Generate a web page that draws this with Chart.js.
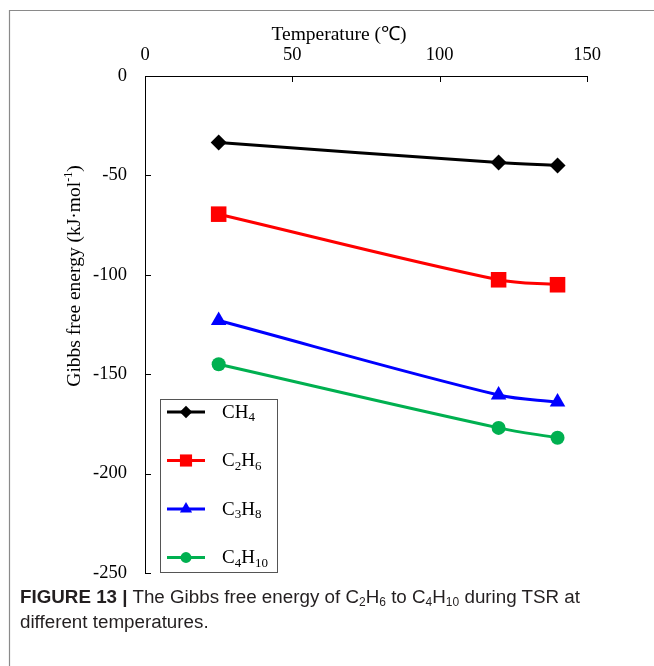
<!DOCTYPE html>
<html>
<head>
<meta charset="utf-8">
<script src="https://cdn.jsdelivr.net/npm/chart.js@4/dist/chart.umd.min.js"></script>
<style>
  html, body { margin: 0; padding: 0; background: #fff; }
  #wrap { position: relative; width: 654px; height: 666px; overflow: hidden; }
  #c { position: absolute; left: 0; top: 0; }
  #caption {
    position: absolute; left: 20px; top: 584px; width: 590px;
    font-family: "Liberation Sans", Arial, sans-serif; font-size: 18.8px;
    line-height: 25px; color: #231f20;
  }
  #caption b { font-weight: bold; }
  #caption sub { font-size: 12px; vertical-align: -3px; line-height: 0; }
</style>
</head>
<body>
<div id="wrap">
  <canvas id="c" width="654" height="666"></canvas>
  <div id="caption"><b>FIGURE 13 |</b> The Gibbs free energy of C<sub>2</sub>H<sub>6</sub> to C<sub>4</sub>H<sub>10</sub> during TSR at different temperatures.</div>
</div>
<script>
// Reaction temperatures (℃)
const temperatures = [25, 120, 140];
// Gibbs free energy (kJ·mol-1) per hydrocarbon
const ch4 = [-33.5, -43.5, -45];
const c2h6 = [-69.5, -102.5, -105];
const c3h8 = [-123, -160.5, -164];
const c4h10 = [-145, -177, -182];
// Legend names: base text and subscript pieces
const seriesNames = [
  [['CH', false], ['4', true]],
  [['C', false], ['2', true], ['H', false], ['6', true]],
  [['C', false], ['3', true], ['H', false], ['8', true]],
  [['C', false], ['4', true], ['H', false], ['10', true]]
];
const xTicks = [0, 50, 100, 150];
const yTicks = [0, -50, -100, -150, -200, -250];

const SERIF = '"Liberation Serif", "Times New Roman", serif';

function pts(vals) { return temperatures.map((t, i) => ({ x: t, y: vals[i] })); }

function series(label, vals, color, style, radius) {
  return {
    label, data: pts(vals),
    borderColor: color, backgroundColor: color,
    borderWidth: 3, tension: 0.35,
    pointStyle: style, pointRadius: radius, pointHoverRadius: radius,
    pointBorderWidth: 0, pointBackgroundColor: color
  };
}

// Outer frame and white background
const framePlugin = {
  id: 'frame',
  beforeDraw(chart) {
    const ctx = chart.ctx;
    ctx.save();
    ctx.fillStyle = '#fff';
    ctx.fillRect(0, 0, chart.width, chart.height);
    ctx.strokeStyle = '#8a8a8a';
    ctx.lineWidth = 1.2;
    ctx.beginPath();
    ctx.moveTo(9.5, chart.height);
    ctx.lineTo(9.5, 10.5);
    ctx.lineTo(chart.width, 10.5);
    ctx.stroke();
    ctx.restore();
  }
};

// Inward tick marks and axis titles
const axisExtras = {
  id: 'axisExtras',
  afterDraw(chart) {
    const ctx = chart.ctx;
    const xs = chart.scales.x, ys = chart.scales.y;
    const area = chart.chartArea;
    ctx.save();
    ctx.strokeStyle = '#000';
    ctx.lineWidth = 1;
    ctx.beginPath();
    xTicks.forEach(v => {
      const px = Math.round(xs.getPixelForValue(v)) + 0.5;
      ctx.moveTo(px, area.top);
      ctx.lineTo(px, area.top + 6);
    });
    yTicks.forEach(v => {
      const py = Math.round(ys.getPixelForValue(v)) + 0.5;
      ctx.moveTo(area.left, py);
      ctx.lineTo(area.left + 6, py);
    });
    ctx.stroke();

    // x title
    ctx.fillStyle = '#000';
    ctx.font = '19.5px ' + SERIF;
    ctx.textAlign = 'center';
    ctx.textBaseline = 'middle';
    ctx.fillText('Temperature (\u2103)', 339, 35);

    // y title with superscript
    ctx.translate(75, 276);
    ctx.rotate(-Math.PI / 2);
    const main = 'Gibbs free energy (kJ\u00b7mol';
    const sup = '-1';
    const tail = ')';
    ctx.font = '19.5px ' + SERIF;
    const w1 = ctx.measureText(main).width;
    const w3 = ctx.measureText(tail).width;
    ctx.font = '12px ' + SERIF;
    const w2 = ctx.measureText(sup).width;
    const total = w1 + w2 + w3;
    let x0 = -total / 2;
    ctx.textAlign = 'left';
    ctx.font = '19.5px ' + SERIF;
    ctx.fillText(main, x0, 0);
    ctx.font = '12px ' + SERIF;
    ctx.fillText(sup, x0 + w1, -6);
    ctx.font = '19.5px ' + SERIF;
    ctx.fillText(tail, x0 + w1 + w2, 0);
    ctx.restore();
  }
};

// Boxed legend inside the plot, with subscript labels
const legendBox = {
  id: 'legendBox',
  afterDraw(chart) {
    const ctx = chart.ctx;
    const bx = 160.5, by = 399.5, bw = 117, bh = 173;
    ctx.save();
    ctx.fillStyle = '#fff';
    ctx.fillRect(bx, by, bw, bh);
    ctx.strokeStyle = '#555';
    ctx.lineWidth = 1;
    ctx.strokeRect(bx, by, bw, bh);
    chart.data.datasets.forEach((ds, i) => {
      const y = 412 + i * 48.5;
      ctx.strokeStyle = ds.borderColor;
      ctx.lineWidth = 3;
      ctx.beginPath();
      ctx.moveTo(167, y);
      ctx.lineTo(205, y);
      ctx.stroke();
      ctx.fillStyle = ds.borderColor;
      Chart.helpers.drawPoint(ctx, {
        pointStyle: ds.pointStyle, radius: ds.pointRadius * 0.78,
        rotation: 0, borderWidth: 0
      }, 186, y);
      // label
      let x = 222;
      ctx.fillStyle = '#000';
      ctx.textAlign = 'left';
      ctx.textBaseline = 'middle';
      seriesNames[i].forEach(([txt, isSub]) => {
        ctx.font = (isSub ? '13px ' : '19px ') + SERIF;
        ctx.fillText(txt, x, isSub ? y + 6 : y + 1);
        x += ctx.measureText(txt).width;
      });
    });
    ctx.restore();
  }
};

new Chart(document.getElementById('c'), {
  type: 'line',
  data: {
    datasets: [
      series('CH4', ch4, '#000000', 'rectRot', 8),
      series('C2H6', c2h6, '#ff0000', 'rect', 11),
      series('C3H8', c3h8, '#0000ff', 'triangle', 9),
      series('C4H10', c4h10, '#00b050', 'circle', 7)
    ]
  },
  options: {
    responsive: false,
    animation: false,
    events: [],
    layout: { padding: { left: 0, top: 0, right: 67, bottom: 93 } },
    plugins: { legend: { display: false }, tooltip: { enabled: false } },
    scales: {
      x: {
        type: 'linear', position: 'top', min: 0, max: 150,
        afterBuildTicks(scale) { scale.ticks = xTicks.map(v => ({ value: v })); },
        afterFit(scale) { scale.height = 76; },
        ticks: { font: { family: SERIF, size: 18.5 }, color: '#000', padding: 10, maxRotation: 0 },
        grid: { drawOnChartArea: false, drawTicks: false },
        border: { display: true, color: '#000', width: 1 }
      },
      y: {
        type: 'linear', min: -250, max: 0,
        afterBuildTicks(scale) { scale.ticks = yTicks.map(v => ({ value: v })); },
        afterFit(scale) { scale.width = 145; },
        ticks: { font: { family: SERIF, size: 18.5 }, color: '#000', padding: 18 },
        grid: { drawOnChartArea: false, drawTicks: false },
        border: { display: true, color: '#000', width: 1 }
      }
    }
  },
  plugins: [framePlugin, axisExtras, legendBox]
});
</script>
</body>
</html>
